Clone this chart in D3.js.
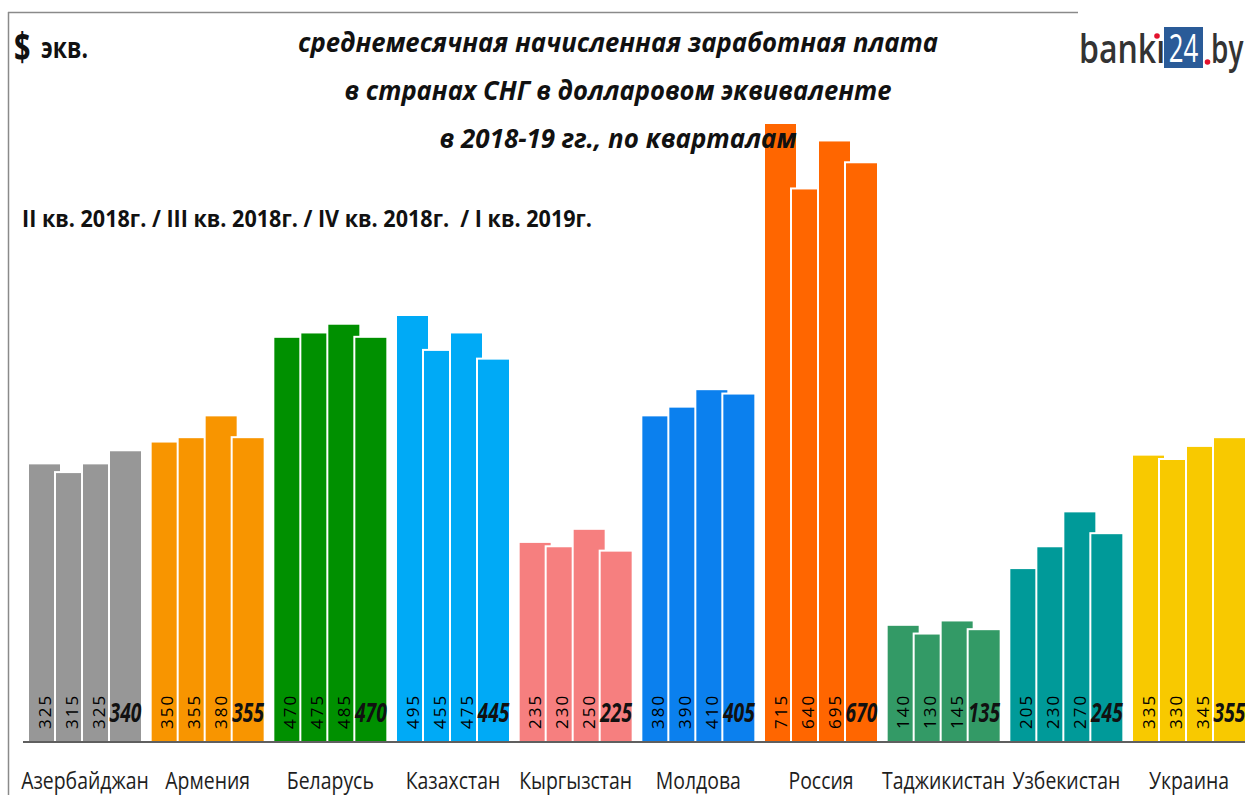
<!DOCTYPE html>
<html>
<head>
<meta charset="utf-8">
<script src="https://cdn.jsdelivr.net/npm/d3@7"></script>
<style>
  body { margin: 0; background: #fff; }
  text { font-family: "Open Sans", "Noto Sans", sans-serif; }
</style>
</head>
<body>
<svg id="chart" width="1245" height="795"></svg>
<script>
// Average monthly wages in CIS countries, USD equivalent, by quarter
const countries = ["Азербайджан", "Армения", "Беларусь", "Казахстан", "Кыргызстан",
                   "Молдова", "Россия", "Таджикистан", "Узбекистан", "Украина"];
const quarters = ["II кв. 2018г.", "III кв. 2018г.", "IV кв. 2018г.", "I кв. 2019г."];
const q2_2018 = [325, 350, 470, 495, 235, 380, 715, 140, 205, 335];
const q3_2018 = [315, 355, 475, 455, 230, 390, 640, 130, 230, 330];
const q4_2018 = [325, 380, 485, 475, 250, 410, 695, 145, 270, 345];
const q1_2019 = [340, 355, 470, 445, 225, 405, 670, 135, 245, 355];
const countryColors = ["#979797", "#f89500", "#009000", "#00aaf6", "#f67f7f",
                       "#0b80ee", "#ff6600", "#339a66", "#009a99", "#f8c900"];
const titleLines = ["среднемесячная начисленная заработная плата",
                    "в странах СНГ в долларовом эквиваленте",
                    "в 2018-19 гг., по кварталам"];
const unitLabel = "экв.";
const quarterCaption = "II кв. 2018г. / III кв. 2018г. / IV кв. 2018г.  / I кв. 2019г.";

const series = [q2_2018, q3_2018, q4_2018, q1_2019];

const W = 1245, H = 795;
const svg = d3.select("#chart");
const axisY = 742;

// groups of four quarterly bars per country
const x = d3.scaleBand()
  .domain(countries)
  .range([28, 1246])
  .paddingInner(0.0707)
  .paddingOuter(0);

// quarters inside a group: bars overlap, each next one drawn above the previous
const xq = d3.scaleBand()
  .domain(quarters)
  .range([0, 108]);
const barW = 33;

const y = d3.scaleLinear()
  .domain([0, 715])
  .range([747, 123]);

// frame lines
svg.append("line").attr("x1", 8).attr("x2", 1078).attr("y1", 12.5).attr("y2", 12.5)
  .attr("stroke", "#8a8a8a").attr("stroke-width", 1.5);
svg.append("line").attr("x1", 8.5).attr("x2", 8.5).attr("y1", 12).attr("y2", H)
  .attr("stroke", "#8a8a8a").attr("stroke-width", 1.5);

// bars
const bars = [];
countries.forEach((c, ci) => {
  quarters.forEach((q, qi) => {
    bars.push({ country: c, ci, quarter: q, qi, value: series[qi][ci] });
  });
});

svg.append("g").selectAll("rect").data(bars).join("rect")
  .attr("x", d => x(d.country) + xq(d.quarter))
  .attr("y", d => y(d.value))
  .attr("width", barW)
  .attr("height", d => axisY - y(d.value))
  .attr("fill", d => countryColors[d.ci])
  .attr("stroke", "#fff")
  .attr("stroke-width", 2);

// value labels: rotated for the first three quarters, bold italic for the last
const labels = svg.append("g");
bars.forEach(d => {
  const cx = x(d.country) + xq(d.quarter) + barW / 2;
  if (d.qi < 3) {
    labels.append("text")
      .attr("transform", `translate(${cx},729) rotate(-90)`)
      .attr("dy", "0.36em")
      .attr("font-size", 17)
      .attr("font-weight", 500)
      .attr("letter-spacing", 2)
      .attr("fill", "#000")
      .text(d.value);
  } else {
    labels.append("text")
      .attr("transform", `translate(${cx},722) scale(0.74,1)`)
      .attr("text-anchor", "middle")
      .attr("font-size", 26)
      .attr("font-weight", "bold")
      .attr("font-style", "italic")
      .attr("fill", "#111")
      .text(d.value);
  }
});

// baseline
svg.append("line").attr("x1", 23).attr("x2", W).attr("y1", axisY).attr("y2", axisY)
  .attr("stroke", "#2a2a2a").attr("stroke-width", 1.6);

// category labels
svg.append("g").selectAll("text").data(countries).join("text")
  .attr("transform", d => `translate(${x(d) + x.bandwidth() / 2},789) scale(0.81,1)`)
  .attr("text-anchor", "middle")
  .attr("font-size", 24)
  .attr("font-weight", 500)
  .attr("fill", "#1e1e1e")
  .text(d => d);

// title
const titleWidths = [640, 547, 357];
svg.append("g").selectAll("text").data(titleLines).join("text")
  .attr("x", 618)
  .attr("y", (d, i) => 52 + i * 48)
  .attr("text-anchor", "middle")
  .attr("font-size", 27)
  .attr("font-weight", "bold")
  .attr("font-style", "italic")
  .attr("fill", "#111")
  .attr("textLength", (d, i) => titleWidths[i])
  .attr("lengthAdjust", "spacingAndGlyphs")
  .text(d => d);

// unit label
svg.append("text")
  .attr("transform", "translate(14,61) scale(0.72,1)")
  .attr("font-size", 40).attr("font-weight", "bold").attr("fill", "#111")
  .text("$");
svg.append("text")
  .attr("transform", "translate(41,58) scale(0.82,1)")
  .attr("font-size", 28).attr("font-weight", "bold").attr("fill", "#111")
  .text(unitLabel);

// quarter order caption
svg.append("text")
  .attr("x", 22).attr("y", 227)
  .attr("font-size", 23).attr("font-weight", "bold").attr("fill", "#111")
  .attr("textLength", 570).attr("lengthAdjust", "spacingAndGlyphs")
  .attr("xml:space", "preserve")
  .text(quarterCaption);

// logo
const logo = svg.append("g").attr("transform", "translate(-3,0)");
logo.append("text")
  .attr("transform", "translate(1082,63) scale(0.8,1)")
  .attr("font-size", 40).attr("font-weight", 600).attr("fill", "#333")
  .text("bankı");
logo.append("circle").attr("cx", 1160).attr("cy", 36).attr("r", 2.8).attr("fill", "#e3122d");
logo.append("rect").attr("x", 1167).attr("y", 27).attr("width", 39).attr("height", 41)
  .attr("fill", "#2a5b98");
logo.append("text")
  .attr("transform", "translate(1186.5,62) scale(0.68,1)")
  .attr("text-anchor", "middle")
  .attr("font-size", 38).attr("fill", "#fff")
  .text("24");
logo.append("circle").attr("cx", 1210.5).attr("cy", 62).attr("r", 2.8).attr("fill", "#e3122d");
logo.append("text")
  .attr("transform", "translate(1214,63) scale(0.7,1)")
  .attr("font-size", 40).attr("font-weight", 600).attr("fill", "#333")
  .text("by");
</script>
</body>
</html>
